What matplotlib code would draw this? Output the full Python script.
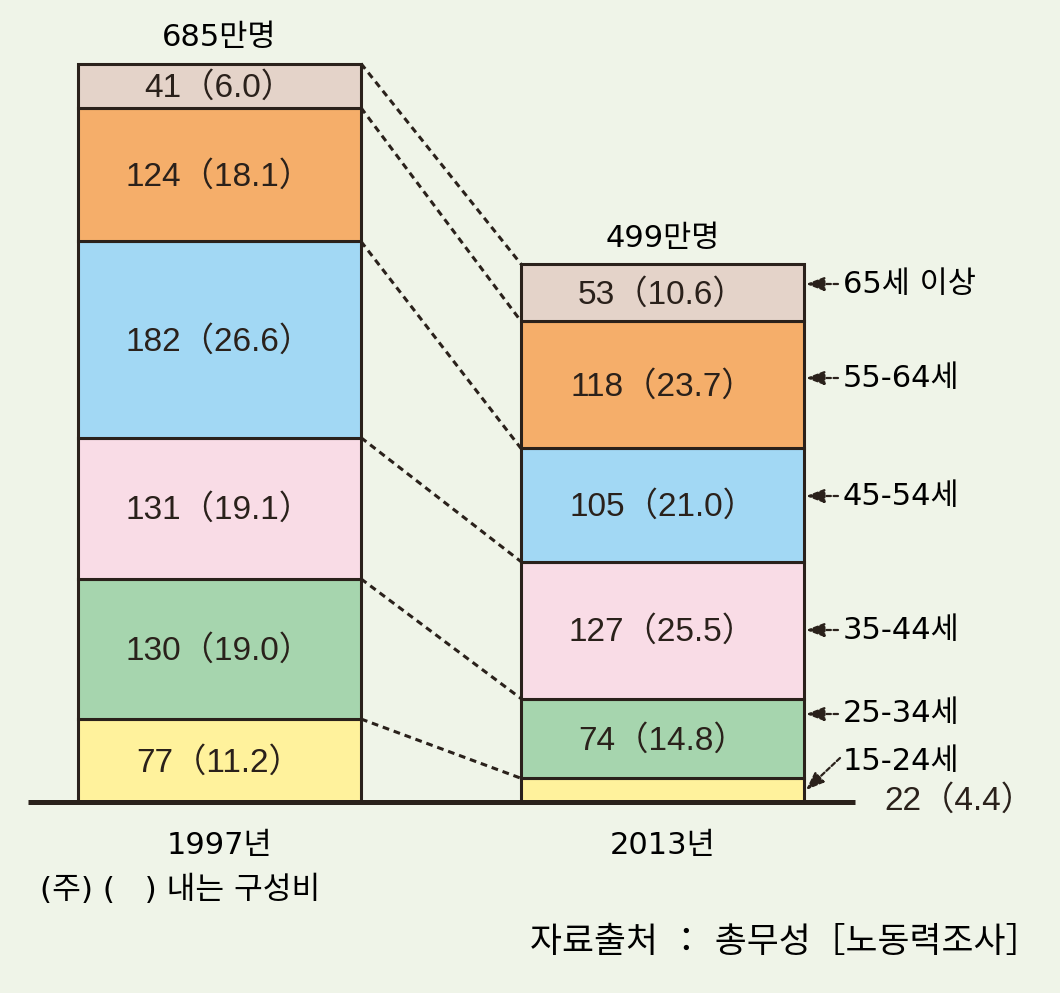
import matplotlib
matplotlib.use("Agg")
from matplotlib import pyplot as plt

# data (만명, 구성비 %)
years = ['1997년', '2013년']
age_groups = ['15-24세', '25-34세', '35-44세', '45-54세', '55-64세', '65세 이상']
counts_1997 = [77, 130, 131, 182, 124, 41]
share_1997 = [11.2, 19.0, 19.1, 26.6, 18.1, 6.0]
counts_2013 = [22, 74, 127, 105, 118, 53]
share_2013 = [4.4, 14.8, 25.5, 21.0, 23.7, 10.6]
totals = [685, 499]
note = '(주) (   ) 내는 구성비'
source = '자료출처 ： 총무성［노동력조사］'

colors = ['#FFF29C', '#A6D5AE', '#F9DCE6', '#A2D8F4', '#F5AE6A', '#E4D3C9']
bg = '#EFF4E8'
ink = '#2A211B'

plt.rcParams['font.family'] = ['Liberation Sans', 'Noto Sans CJK KR', 'DejaVu Sans']
kr = ['DejaVu Sans', 'Noto Sans CJK KR']

# pixel layout -> data units
PX = 1.078          # pixels per 만명
BASE = 802          # baseline pixel row
H, W = 993, 1060


def py(p):
    return (BASE - p) / PX


fig = plt.figure(figsize=(W / 100, H / 100), dpi=100, facecolor=bg)
ax = fig.add_axes([0, 0, 1, 1])
ax.set_facecolor(bg)
ax.set_xlim(0, W)
ax.set_ylim(py(H), py(0))
ax.axis('off')

xs = [219.5, 662.5]
bw = 283
series = [(counts_1997, share_1997), (counts_2013, share_2013)]

tops = []
for x, (counts, shares) in zip(xs, series):
    bottom = 0
    edges = []
    for i, (c, s) in enumerate(zip(counts, shares)):
        ax.bar(x, c, bw, bottom=bottom, color=colors[i], edgecolor=ink, linewidth=2.2, zorder=2)
        label = f'{c}（{s:.1f}）'
        if c > 30:
            ax.text(x, bottom + c / 2 - 2, label, ha='center', va='center', fontsize=24, color=ink, zorder=4)
        else:
            ax.text(884, py(801), label, ha='left', va='center', fontsize=24, color=ink, zorder=4)
        bottom += c
        edges.append(bottom)
    tops.append([0] + edges)

for x, t, yr in zip(xs, totals, years):
    ax.text(x, t + 24, f'{t}만명', ha='center', va='center', fontsize=22, color='black', family=kr)
    ax.text(x, py(845), yr, ha='center', va='center', fontsize=22, color='black', family=kr)

# connecting dashed lines
for a, b in zip(tops[0][1:], tops[1][1:]):
    ax.plot([xs[0] + bw / 2, xs[1] - bw / 2], [a, b], color=ink, lw=2.2,
            ls=(0, (2.2, 1.6)), zorder=3)

# baseline
ax.plot([28, 855], [0, 0], color=ink, lw=3.6, solid_capstyle='butt', zorder=5)

# right-side age labels with arrows
label_rows = [762, 714, 630, 496, 378, 284]
arrow_x0 = xs[1] + bw / 2 + 2
for i, (name, row) in enumerate(zip(age_groups, label_rows)):
    if i == 0:
        start, end = (840, py(758)), (arrow_x0, py(790))
    else:
        start, end = (838, py(row)), (arrow_x0, py(row))
    ax.annotate('', xy=end, xytext=start,
                arrowprops=dict(arrowstyle='-|>,head_length=1.1,head_width=0.42',
                                color=ink, lw=1.6, linestyle=(0, (2, 1.2)),
                                shrinkA=0, shrinkB=0), zorder=5)
    ax.text(843, py(row), name, ha='left', va='center', fontsize=22, color='black', family=kr)

ax.text(40, py(890), note, ha='left', va='center', fontsize=22.5, color='black', family=kr)
ax.text(1040, py(942), source, ha='right', va='center', fontsize=25, color='black', family=kr)

fig.savefig('out.png', dpi=100, facecolor=bg)
